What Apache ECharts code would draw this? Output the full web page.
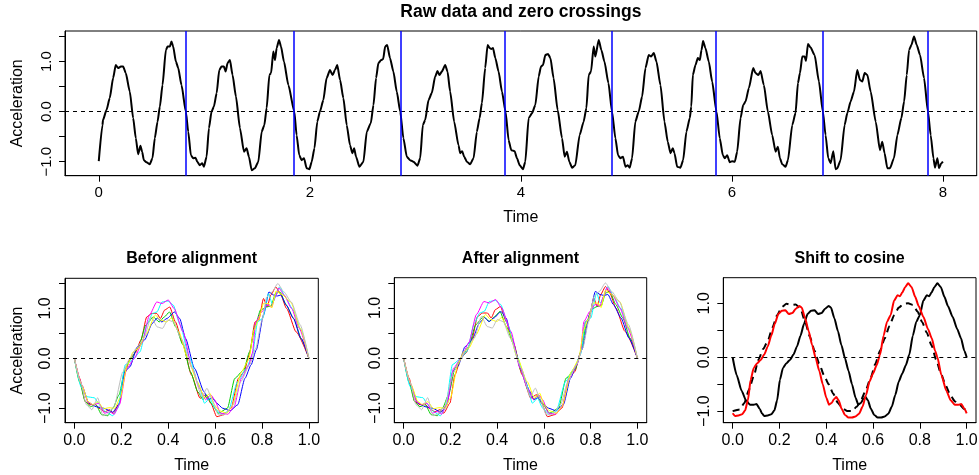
<!DOCTYPE html>
<html>
<head>
<meta charset="utf-8">
<script src="https://cdn.jsdelivr.net/npm/echarts@6/dist/echarts.min.js"></script>
<style>
  html, body { margin: 0; padding: 0; background: #fff; }
  #chart { width: 979px; height: 475px; }
</style>
</head>
<body>
<div id="chart"></div>
<script>
// Raw accelerometer trace (seconds, g)
const rawTime = [
  0, 0.035, 0.04, 0.073, 0.104, 0.136, 0.161, 0.183, 0.209, 0.231, 0.256, 0.294, 0.326, 0.351, 0.373, 0.395, 0.411, 0.427, 0.452, 0.484,
  0.509, 0.531, 0.557, 0.579, 0.604, 0.636, 0.652, 0.674, 0.689, 0.705, 0.731, 0.753, 0.784, 0.825, 0.848, 0.873, 0.895, 0.917, 0.933, 0.958,
  0.98, 0.996, 1.022, 1.044, 1.069, 1.091, 1.117, 1.142, 1.164, 1.186, 1.202, 1.221, 1.243, 1.268, 1.3, 1.338, 1.376, 1.401, 1.423, 1.449,
  1.48, 1.512, 1.544, 1.569, 1.591, 1.617, 1.633, 1.654, 1.67, 1.686, 1.708, 1.727, 1.755, 1.797, 1.853, 1.875, 1.9, 1.922, 1.945, 1.97,
  1.996, 2.018, 2.044, 2.071, 2.096, 2.128, 2.159, 2.191, 2.216, 2.238, 2.26, 2.287, 2.318, 2.35, 2.381, 2.404, 2.42, 2.438, 2.47, 2.508,
  2.54, 2.578, 2.603, 2.628, 2.65, 2.676, 2.695, 2.714, 2.733, 2.76, 2.792, 2.824, 2.857, 2.887, 2.919, 2.95, 2.982, 3.02, 3.046, 3.071,
  3.093, 3.125, 3.156, 3.188, 3.21, 3.229, 3.251, 3.283, 3.305, 3.33, 3.368, 3.409, 3.425, 3.444, 3.463, 3.488, 3.52, 3.552, 3.583, 3.609,
  3.631, 3.662, 3.685, 3.704, 3.72, 3.736, 3.758, 3.789, 3.821, 3.855, 3.884, 3.909, 3.941, 3.963, 3.989, 4.02, 4.042, 4.074, 4.106, 4.137,
  4.169, 4.191, 4.21, 4.232, 4.258, 4.28, 4.31, 4.349, 4.39, 4.415, 4.437, 4.459, 4.485, 4.516, 4.557, 4.595, 4.621, 4.643, 4.665, 4.69,
  4.706, 4.738, 4.763, 4.792, 4.83, 4.864, 4.896, 4.921, 4.943, 4.968, 4.991, 5.013, 5.032, 5.054, 5.085, 5.117, 5.149, 5.181, 5.212, 5.234,
  5.26, 5.285, 5.323, 5.361, 5.392, 5.418, 5.44, 5.456, 5.481, 5.512, 5.538, 5.569, 5.601, 5.615, 5.63, 5.655, 5.677, 5.696, 5.712, 5.727,
  5.749, 5.781, 5.813, 5.854, 5.885, 5.914, 5.933, 5.955, 5.98, 6.002, 6.028, 6.05, 6.082, 6.107, 6.129, 6.161, 6.202, 6.224, 6.25, 6.272,
  6.303, 6.341, 6.382, 6.414, 6.436, 6.455, 6.477, 6.509, 6.531, 6.572, 6.603, 6.626, 6.645, 6.667, 6.689, 6.702, 6.721, 6.746, 6.784, 6.825,
  6.862, 6.888, 6.913, 6.936, 6.961, 6.983, 6.999, 7.03, 7.068, 7.094, 7.125, 7.157, 7.188, 7.214, 7.236, 7.258, 7.284, 7.315, 7.363, 7.403,
  7.425, 7.447, 7.473, 7.498, 7.536, 7.568, 7.606, 7.632, 7.657, 7.679, 7.701, 7.726, 7.752, 7.783, 7.821, 7.858, 7.884, 7.91, 7.925, 7.947,
  7.963, 7.985, 8.0
];
const rawAccel = [
  -0.99, -0.27, -0.17, 0.03, 0.27, 0.67, 0.93, 0.87, 0.9, 0.9, 0.77, 0.4, -0.13, -0.53, -0.85, -0.68, -0.8, -0.97, -1.01, -1.05,
  -0.93, -0.53, -0.2, 0.1, 0.53, 1.23, 1.3, 1.3, 1.4, 1.3, 1.0, 0.87, 0.53, 0, -0.4, -0.87, -0.93, -0.92, -1.0, -1.07,
  -1.03, -1.1, -0.9, -0.33, 0, 0.1, 0.37, 0.83, 0.9, 0.9, 0.8, 0.97, 1.03, 0.73, 0.3, -0.33, -0.8, -0.73, -0.9, -1.17,
  -1.13, -1.0, -0.4, -0.27, 0.07, 0.73, 0.77, 1.2, 1.03, 1.27, 1.43, 1.3, 1.0, 0.53, 0, -0.47, -0.87, -0.97, -0.93, -1.13,
  -1.15, -1.0, -0.73, -0.2, 0, 0.23, 0.67, 0.83, 0.73, 0.83, 0.93, 0.63, 0.27, -0.27, -0.67, -0.83, -0.73, -0.9, -1.1, -1.0,
  -0.4, -0.23, 0.13, 0.67, 0.97, 1.03, 1.05, 1.3, 1.33, 1.07, 0.8, 0.4, 0, -0.53, -0.9, -0.97, -1.0, -1.08, -0.93, -0.27,
  -0.17, 0.23, 0.37, 0.7, 0.81, 0.73, 0.8, 0.93, 0.8, 0.4, -0.2, -0.67, -0.83, -0.79, -0.9, -1.0, -1.05, -0.93, -0.4, -0.13,
  0.17, 0.87, 1.33, 1.27, 1.25, 1.27, 1.07, 0.8, 0.4, 0, -0.57, -0.77, -0.79, -0.93, -1.07, -1.15, -1.0, -0.13, -0.03, 0.13,
  0.7, 0.9, 0.93, 1.13, 1.15, 1.07, 0.67, 0.03, -0.53, -0.9, -0.8, -1.0, -1.12, -1.07, -0.47, -0.2, 0.07, 0.73, 0.8, 1.3,
  1.1, 1.43, 1.23, 1.0, 0.57, 0, -0.53, -0.87, -0.93, -0.9, -1.1, -1.07, -1.12, -0.93, -0.2, 0, 0.3, 0.87, 1.13, 1.1,
  1.17, 1.0, 0.53, -0.2, -0.6, -0.83, -0.73, -0.83, -1.1, -1.12, -0.97, -0.4, -0.13, 0.1, 0.73, 0.93, 1.07, 1.03, 1.23, 1.41,
  1.27, 1.0, 0.6, 0, -0.53, -0.87, -0.93, -0.87, -1.01, -0.99, -1.0, -0.8, -0.13, 0.13, 0.2, 0.47, 0.87, 0.77, 0.73, 0.81,
  0.53, 0, -0.47, -0.8, -0.7, -0.93, -1.05, -1.1, -0.97, -0.27, -0.03, 0.57, 0.77, 1.1, 1.1, 1.01, 1.35, 1.28, 1.13, 0.6,
  0, -0.47, -0.93, -1.03, -0.79, -1.15, -1.13, -0.97, -0.27, -0.03, 0.2, 0.4, 0.83, 0.63, 0.6, 0.77, 0.73, 0.4, -0.2, -0.77,
  -0.6, -0.83, -1.13, -1.13, -0.93, -0.47, -0.13, 0.2, 0.73, 1.23, 1.33, 1.5, 1.33, 1.13, 0.67, 0, -0.47, -0.93, -1.12, -0.93,
  -1.13, -1.03, -1.0
];
// Downward zero crossings that cut the trace into cycles
const crossingTimes = [0.825, 1.853, 2.857, 3.855, 4.864, 5.854, 6.862, 7.858];
const cycleColors = ['#FF0000', '#00CD00', '#0000FF', '#00FFFF', '#FF00FF', '#FFFF00', '#BEBEBE'];

// Mean aligned cycle (normalised time)
const meanTime = [
  0, 0.017, 0.038, 0.057, 0.074, 0.09, 0.102, 0.116, 0.125, 0.135, 0.15, 0.165, 0.178, 0.19, 0.202, 0.215, 0.23, 0.245, 0.26, 0.275,
  0.29, 0.305, 0.32, 0.335, 0.35, 0.365, 0.38, 0.395, 0.41, 0.42, 0.435, 0.45, 0.465, 0.48, 0.495, 0.51, 0.525, 0.537, 0.548, 0.558,
  0.568, 0.578, 0.59, 0.605, 0.62, 0.635, 0.65, 0.665, 0.68, 0.695, 0.71, 0.725, 0.74, 0.755, 0.77, 0.785, 0.8, 0.815, 0.83, 0.84,
  0.85, 0.862, 0.875, 0.89, 0.905, 0.92, 0.94, 0.96, 0.976, 0.99, 1.0
];
const meanAccel = [
  0, -0.33, -0.62, -0.8, -0.88, -0.88, -0.87, -0.96, -1.04, -1.09, -1.08, -1.06, -0.99, -0.8, -0.42, -0.2, -0.11, -0.05, 0.05, 0.2,
  0.4, 0.62, 0.8, 0.86, 0.87, 0.8, 0.82, 0.9, 0.95, 0.92, 0.72, 0.48, 0.22, -0.02, -0.25, -0.5, -0.75, -0.88, -0.85, -0.78,
  -0.74, -0.8, -0.95, -1.07, -1.12, -1.12, -1.1, -1.05, -0.92, -0.7, -0.45, -0.3, -0.15, 0.05, 0.4, 0.66, 0.78, 1.05, 1.15, 1.13,
  1.2, 1.3, 1.37, 1.3, 1.12, 0.95, 0.75, 0.52, 0.35, 0.12, 0
];
// Cosine template
const cosineTime = [
  0, 0.03, 0.05, 0.07, 0.09, 0.11, 0.13, 0.15, 0.17, 0.19, 0.21, 0.23, 0.25, 0.27, 0.29, 0.31, 0.33, 0.35, 0.37, 0.39,
  0.41, 0.43, 0.45, 0.47, 0.49, 0.51, 0.53, 0.55, 0.57, 0.59, 0.61, 0.63, 0.65, 0.67, 0.69, 0.71, 0.73, 0.75, 0.77, 0.79,
  0.81, 0.83, 0.85, 0.87, 0.89, 0.91, 0.93, 0.95, 0.97, 0.99, 1.0
];
const cosineAccel = [
  -1.0, -0.97, -0.85, -0.6, -0.35, -0.05, 0.15, 0.3, 0.55, 0.78, 0.93, 0.99, 0.97, 0.98, 0.9, 0.65, 0.38, 0.12, -0.12, -0.33,
  -0.5, -0.68, -0.85, -0.95, -1.0, -1.0, -0.92, -0.78, -0.6, -0.38, -0.12, 0.12, 0.35, 0.58, 0.78, 0.92, 0.99, 1.0, 0.97, 0.85,
  0.65, 0.45, 0.22, -0.05, -0.3, -0.52, -0.7, -0.82, -0.88, -0.96, -1.0
];
const cosineShift = 0.125;

// ---- derived tables ----
const rawPoints = rawTime.map((t, i) => [t, rawAccel[i]]);

// each cycle between two consecutive crossings, on a 0..1 time scale
const cycles = [];
for (let k = 0; k < crossingTimes.length - 1; k++) {
  const a = crossingTimes[k], b = crossingTimes[k + 1];
  const pts = [[0, 0]];
  rawTime.forEach((t, i) => { if (t > a && t < b) pts.push([(t - a) / (b - a), rawAccel[i]]); });
  pts.push([1, 0]);
  cycles.push(pts);
}

// landmark registration on the interior zero crossings
function crossingIn(pts, lo, hi, up) {
  for (let i = 1; i < pts.length; i++) {
    const [x0, y0] = pts[i - 1], [x1, y1] = pts[i];
    if (x1 < lo || x0 > hi) continue;
    const hit = up ? (y0 < 0 && y1 >= 0) : (y0 > 0 && y1 <= 0);
    if (hit) return x0 + (x1 - x0) * (0 - y0) / (y1 - y0);
  }
  return (lo + hi) / 2;
}
const marks = cycles.map(p => [0, crossingIn(p, 0.15, 0.4, true), crossingIn(p, 0.4, 0.62, false), crossingIn(p, 0.62, 0.85, true), 1]);
const target = [0, 1, 2, 3, 4].map(j => marks.reduce((s, m) => s + m[j], 0) / marks.length);
function warp(x, from, to) {
  for (let j = 0; j < from.length - 1; j++) {
    if (x <= from[j + 1]) return to[j] + (x - from[j]) * (to[j + 1] - to[j]) / (from[j + 1] - from[j]);
  }
  return 1;
}
const alignedCycles = cycles.map((p, k) => p.map(([x, y]) => [warp(x, marks[k], target), y]));

const meanPoints = meanTime.map((t, i) => [t, meanAccel[i]]);
const cosinePoints = cosineTime.map((t, i) => [t, cosineAccel[i]]);
const shiftedPoints = [];
meanTime.forEach((t, i) => {
  if (t >= cosineShift) shiftedPoints.push([t - cosineShift, meanAccel[i]]);
  if (t <= cosineShift) shiftedPoints.push([t + 1 - cosineShift, meanAccel[i]]);
});
shiftedPoints.sort((p, q) => p[0] - q[0]);

// ---- layout ----
const FONT = '"Liberation Sans", Arial, Helvetica, sans-serif';
const grids = [
  { left: 65, top: 31, width: 911.7, height: 144.7 },
  { left: 65, top: 278.3, width: 253.3, height: 144.4 },
  { left: 394.3, top: 277.7, width: 252.4, height: 145 },
  { left: 723.3, top: 277.7, width: 252.7, height: 145 }
];
const titles = ['Raw data and zero crossings', 'Before alignment', 'After alignment', 'Shift to cosine'];
const titleY = [12, 259, 259, 259];
const titleSize = [17.5, 16, 16, 16];
const minus = v => (v < 0 ? '\u2212' : '') + Math.abs(v).toFixed(1);

function xAxisFor(i, min, max, ticks, fmt, fontSize) {
  return {
    type: 'value', gridIndex: i, min, max,
    name: 'Time', nameLocation: 'middle', nameGap: i === 0 ? 34 : 35,
    nameTextStyle: { fontFamily: FONT, fontSize: 16, color: '#000' },
    axisLine: { show: true, onZero: false, lineStyle: { color: '#000', width: 1 } },
    axisTick: { show: true, inside: false, length: 6, customValues: ticks, lineStyle: { color: '#000', width: 1 } },
    axisLabel: { customValues: ticks, formatter: fmt, fontFamily: FONT, fontSize, color: '#000', margin: 10, hideOverlap: false },
    splitLine: { show: false }
  };
}
function yAxisFor(i, min, max, ticks, labels, named, fontSize) {
  return {
    type: 'value', gridIndex: i, min, max,
    name: named ? 'Acceleration' : '', nameLocation: 'middle', nameGap: 39,
    nameTextStyle: { fontFamily: FONT, fontSize: 16, color: '#000' },
    axisLine: { show: true, onZero: false, lineStyle: { color: '#000', width: 1 } },
    axisTick: { show: true, inside: false, length: 6, customValues: ticks, lineStyle: { color: '#000', width: 1 } },
    axisLabel: { customValues: labels, formatter: minus, rotate: 90, fontFamily: FONT, fontSize, color: '#000', margin: 11, hideOverlap: false },
    splitLine: { show: false }
  };
}

const halfTicks = [-1, -0.5, 0, 0.5, 1, 1.5];
const unitLabels = [-1, 0, 1];
const fifthTicks = [0, 0.2, 0.4, 0.6, 0.8, 1];
const fmt1 = v => v.toFixed(1);

const xAxes = [
  xAxisFor(0, -0.32, 8.32, [0, 2, 4, 6, 8], v => String(v), 15),
  xAxisFor(1, -0.04, 1.04, fifthTicks, fmt1, 16),
  xAxisFor(2, -0.04, 1.04, fifthTicks, fmt1, 16),
  xAxisFor(3, -0.04, 1.04, fifthTicks, fmt1, 16)
];
const yAxes = [
  yAxisFor(0, -1.28, 1.61, halfTicks, unitLabels, true, 15),
  yAxisFor(1, -1.29, 1.605, halfTicks, unitLabels, true, 16),
  yAxisFor(2, -1.29, 1.605, halfTicks, unitLabels, false, 16),
  yAxisFor(3, -1.215, 1.475, [-1, -0.5, 0, 0.5, 1], unitLabels, false, 16)
];

function zeroLine(i) {
  const style = { color: '#000', width: 1, type: [4, 4] };
  return {
    type: 'line', xAxisIndex: i, yAxisIndex: i, data: [], z: 5, silent: true,
    markLine: {
      symbol: 'none', silent: true, animation: false, label: { show: false },
      lineStyle: style,
      data: [{ yAxis: 0, lineStyle: style }]
    }
  };
}
function curve(i, data, color, width, extra) {
  return Object.assign({
    type: 'line', xAxisIndex: i, yAxisIndex: i, data, showSymbol: false, symbol: 'none',
    smooth: 0.2, smoothMonotone: 'x', lineStyle: { color, width }, itemStyle: { color }, silent: true
  }, extra || {});
}

const blueStyle = { color: '#0000FF', width: 1.5, type: 'solid' };
const series = [];
series.push(curve(0, rawPoints, '#000', 2));
series.push(zeroLine(0));
series.push({
  type: 'line', xAxisIndex: 0, yAxisIndex: 0, data: [], z: 6, silent: true,
  itemStyle: { color: '#0000FF' }, lineStyle: blueStyle,
  markLine: {
    symbol: 'none', silent: true, animation: false, label: { show: false },
    lineStyle: blueStyle,
    data: crossingTimes.map(c => ({ xAxis: c, lineStyle: blueStyle }))
  }
});
cycles.forEach((p, k) => series.push(curve(1, p, cycleColors[k], 1)));
series.push(zeroLine(1));
alignedCycles.forEach((p, k) => series.push(curve(2, p, cycleColors[k], 1)));
series.push(zeroLine(2));
series.push(curve(3, meanPoints, '#000', 2));
series.push(curve(3, cosinePoints, '#000', 2, { lineStyle: { color: '#000', width: 2, type: [7, 5] } }));
series.push(curve(3, shiftedPoints, '#FF0000', 2));
series.push(zeroLine(3));

const chart = echarts.init(document.getElementById('chart'), null, { renderer: 'canvas' });
chart.setOption({
  animation: false,
  backgroundColor: '#fff',
  title: titles.map((t, i) => ({
    text: t, left: grids[i].left + grids[i].width / 2, top: titleY[i],
    textAlign: 'center', textVerticalAlign: 'middle', padding: 0,
    textStyle: { fontFamily: FONT, fontSize: titleSize[i], fontWeight: 'bold', color: '#000' }
  })),
  grid: grids.map(g => Object.assign({
    show: true, borderColor: '#000', borderWidth: 1, backgroundColor: 'transparent',
    containLabel: false, outerBoundsMode: 'none'
  }, g)),
  xAxis: xAxes,
  yAxis: yAxes,
  series
});
</script>
</body>
</html>
